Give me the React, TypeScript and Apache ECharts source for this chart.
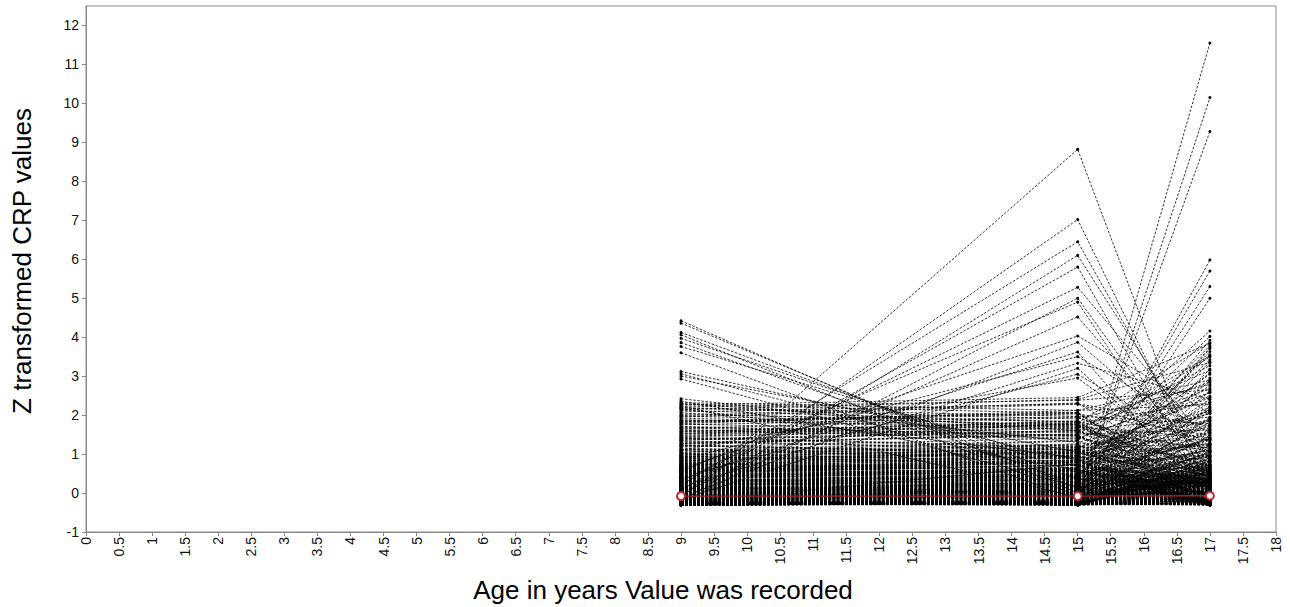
import React, { useEffect, useRef } from "react";
import * as echarts from "echarts";

// Ages at which CRP was recorded
const ages = [9, 15, 17];

// Y axis tick values
const yTicks = [-1, 0, 1, 2, 3, 4, 5, 6, 7, 8, 9, 10, 11, 12];

// Bulk of subjects: z-transformed CRP at age 9, 15, 17
const bulk9 = [
  -0.28, -0.21, 0.05, -0.3, 0.44, -0.12, 1.32, -0.26, 0.18, -0.05,
  0.71, -0.29, -0.17, 2.05, -0.24, 0.09, -0.31, 0.36, -0.08, 1.05,
  -0.22, -0.27, 0.58, -0.14, -0.3, 0.12, 1.78, -0.19, 0.27, -0.25,
  0.93, -0.03, -0.29, 0.41, -0.23, 1.52, -0.11, -0.28, 0.66, 0.02,
  -0.26, 0.21, -0.31, 1.18, -0.16, -0.07, 0.49, -0.27, 1.95, -0.2,
  0.15, -0.3, 0.84, -0.13, -0.25, 0.31, -0.04, 1.41, -0.29, 0.07,
  -0.18, 0.54, -0.28, -0.09, 1.66, -0.24, 0.25, -0.3, 0.76, -0.15,
  -0.01, -0.27, 1.12, 0.38, -0.22, -0.3, 0.62, -0.1, 2.18, -0.26,
  0.11, -0.19, -0.29, 0.97, -0.06, 0.47, -0.25, 1.26, -0.31, 0.19,
  -0.23, 0.33, -0.12, -0.28, 1.87, 0.04, -0.21, 0.69, -0.3, -0.14,
  1.48, -0.26, 0.14, -0.02, -0.29, 0.88, -0.17, 0.29, -0.24, 1.61,
  -0.08, -0.3, 0.52, -0.2, 0.08, 1.02, -0.27, -0.11, 0.42, 2.26,
  -0.29, 0.23, -0.15, 0.79, -0.31, 0.01, 1.36, -0.22, -0.05, 0.57,
  0.17, -0.26, 1.71, -0.18, 0.35, -0.28, -0.09, 0.91, -0.24, 0.06,
  -0.13, 1.22, -0.3, 0.45, -0.21, 0.13, -0.27, 1.99, 0.26, -0.16,
  0.64, -0.07, -0.29, 0.1, 1.57, -0.23, 0.39, -0.3, -0.12, 0.82,
  -0.25, 0.03, 1.09, -0.19, -0.28, 0.5, -0.04, 2.12, -0.26, 0.2,
  1.43, -0.22, 0.3, -0.31, 0.74, -0.1, -0.27, 0.16, 1.84, -0.18,
];
const bulk15 = [
  -0.25, -0.12, 0.22, -0.27, 0.61, -0.2, 1.1, -0.29, 0.35, 0.08,
  0.95, -0.24, -0.05, 1.72, -0.3, 0.26, -0.28, 0.58, -0.15, 1.33,
  -0.1, -0.29, 0.81, -0.02, -0.26, 0.31, 2.12, -0.23, 0.14, -0.18,
  0.74, 0.19, -0.22, 0.62, -0.27, 1.85, 0.06, -0.3, 0.92, -0.11,
  -0.21, 0.05, -0.28, 1.41, -0.03, -0.19, 0.72, -0.24, 2.28, -0.09,
  0.38, -0.25, 1.09, -0.26, -0.14, 0.17, 0.13, 1.16, -0.3, 0.29,
  -0.06, 0.79, -0.2, -0.22, 1.94, -0.28, 0.42, -0.23, 0.55, 0.02,
  0.16, -0.19, 0.88, 0.57, -0.29, -0.24, 0.84, 0.07, 1.9, -0.3,
  -0.04, -0.27, -0.21, 1.24, 0.11, 0.3, -0.16, 1.52, -0.26, 0.4,
  -0.28, 0.51, 0.03, -0.22, 1.63, 0.21, -0.29, 0.48, -0.25, -0.02,
  1.77, -0.2, -0.01, 0.15, -0.27, 1.13, -0.25, 0.46, -0.3, 1.38,
  0.09, -0.26, 0.36, -0.28, 0.24, 0.8, -0.21, 0.04, 0.65, 2.45,
  -0.24, 0.44, -0.23, 1.02, -0.27, 0.18, 1.6, -0.3, 0.12, 0.39,
  0.01, -0.21, 1.48, -0.06, 0.58, -0.3, 0.08, 1.17, -0.17, 0.23,
  0.03, 0.98, -0.25, 0.66, -0.29, -0.02, -0.2, 2.31, 0.47, -0.27,
  0.43, 0.1, -0.24, 0.27, 1.84, -0.3, 0.22, -0.26, 0.05, 1.06,
  -0.3, 0.2, 1.35, -0.08, -0.21, 0.73, -0.18, 1.81, -0.29, 0.37,
  1.19, -0.28, 0.52, -0.26, 0.97, 0.06, -0.23, -0.01, 2.07, -0.12,
];
const bulk17 = [
  0.08, -0.27, 0.42, -0.2, 1.86, -0.3, 0.21, 2.95, -0.14, 0.67,
  -0.29, 1.24, 0.03, 0.54, -0.23, 3.42, -0.09, -0.28, 0.88, 0.15,
  1.59, -0.18, -0.31, 0.33, 0.02, -0.26, 2.27, 0.74, -0.12, -0.29,
  -0.05, 0.48, 1.05, -0.25, 3.71, 0.11, -0.3, 0.26, 1.67, -0.21,
  0.62, -0.28, 0.19, 2.58, -0.16, 0.39, -0.27, -0.03, 1.33, 0.07,
  -0.24, 3.18, -0.11, 0.81, 0.14, -0.29, 0.47, 2.04, -0.19, 1.12,
  0.28, -0.06, 1.94, -0.31, 0.59, -0.22, 3.55, 0.09, -0.26, 0.36,
  2.41, 0.17, -0.28, 0.7, -0.13, 1.48, -0.3, 0.0, 2.79, -0.24,
  -0.17, 0.53, 0.12, -0.27, 1.76, 0.31, -0.1, 3.27, -0.29, 0.94,
  0.44, -0.25, 2.16, 0.05, -0.31, 0.86, -0.2, 1.39, 0.23, -0.07,
  -0.3, 0.65, -0.15, 3.63, 0.1, -0.26, 1.17, 0.38, -0.28, 2.68,
  1.01, -0.22, 0.29, -0.04, 2.33, -0.29, 0.77, 0.16, -0.18, 3.84,
  0.06, 1.53, -0.27, 0.45, -0.12, 2.87, 0.2, -0.3, 0.98, -0.08,
  1.82, -0.23, 0.13, 3.36, -0.29, 0.57, -0.02, 1.26, -0.25, 0.34,
  -0.14, 2.49, 0.72, -0.28, 0.04, 1.63, -0.21, 0.27, 3.08, -0.31,
  0.5, -0.09, 1.08, 0.18, -0.26, 2.11, 0.41, -0.19, 0.83, 1.71,
  -0.27, 0.24, 3.49, -0.16, 0.68, -0.3, 1.44, 0.01, 2.22, -0.24,
  0.93, -0.12, 0.35, 1.92, -0.28, 0.55, 2.62, -0.2, 0.14, 3.74,
];

// Further subjects with low values
const low9 = [
  -0.27, -0.19, 0.02, -0.3, 0.13, -0.24, 0.31, -0.29, -0.09, 0.46,
  -0.22, -0.31, 0.07, -0.15, 0.24, -0.28, -0.03, 0.55, -0.26, -0.11,
  0.18, -0.29, -0.2, 0.37, -0.07, -0.3, 0.1, -0.25, 0.62, -0.16,
  -0.28, 0.04, -0.23, 0.28, -0.31, -0.13, 0.5, -0.21, 0.15, -0.27,
  -0.06, 0.41, -0.3, -0.18, 0.09, -0.26, 0.33, -0.29, -0.01, 0.71,
  -0.24, -0.1, 0.2, -0.31, 0.58, -0.17, -0.28, 0.06, -0.22, 0.39,
  -0.3, 0.12, -0.25, -0.04, 0.47, -0.29, 0.26, -0.14, -0.27, 0.83,
  0.01, -0.23, 0.35, -0.31, -0.08, 0.17, -0.26, 0.66, -0.19, -0.3,
  0.22, -0.12, -0.28, 0.44, -0.24, 0.08, -0.31, 0.29, -0.05, -0.21,
  0.53, -0.27, -0.15, 0.14, -0.3, 0.38, -0.02, -0.25, 0.95, -0.18,
  -0.29, 0.27, -0.09, -0.23, 0.6, -0.31, 0.11, -0.26, 0.43, -0.13,
  -0.2, 0.05, -0.28, 0.32, -0.07, 0.76, -0.3, -0.16, 0.19, -0.24,
];
const low15 = [
  -0.22, -0.26, 0.15, -0.27, 0.01, -0.29, 0.47, -0.23, 0.06, 0.3,
  -0.28, -0.25, 0.2, -0.04, 0.39, -0.3, -0.16, 0.71, -0.21, 0.02,
  0.32, -0.24, -0.29, 0.21, 0.08, -0.26, -0.05, -0.3, 0.8, -0.08,
  -0.2, 0.19, -0.28, 0.44, -0.26, -0.02, 0.34, -0.27, 0.29, -0.22,
  0.09, 0.58, -0.25, -0.29, 0.23, -0.18, 0.17, -0.31, 0.14, 0.55,
  -0.3, 0.04, 0.36, -0.24, 0.42, -0.27, -0.21, -0.07, -0.29, 0.54,
  -0.23, 0.26, -0.3, 0.1, 0.63, -0.25, 0.12, -0.03, -0.2, 0.64,
  0.16, -0.28, 0.21, -0.26, 0.06, 0.03, -0.3, 0.85, -0.09, -0.24,
  0.37, -0.25, -0.22, 0.28, -0.3, 0.23, -0.27, 0.45, 0.1, -0.29,
  0.4, -0.2, -0.01, 0.27, -0.25, 0.22, 0.13, -0.31, 1.12, -0.06,
  -0.24, 0.41, 0.05, -0.29, 0.46, -0.26, 0.25, -0.19, 0.58, 0.01,
  -0.27, 0.18, -0.23, 0.48, -0.18, 0.6, -0.26, -0.03, 0.34, -0.3,
];
const low17 = [
  0.12, -0.29, -0.05, 0.38, -0.22, 0.61, -0.3, 0.04, -0.17, 0.27,
  -0.26, 0.49, -0.11, -0.28, 0.15, 0.83, -0.24, -0.02, 0.33, -0.31,
  -0.08, 0.56, -0.27, 0.09, -0.2, 0.42, -0.29, 0.21, -0.13, 1.05,
  0.3, -0.25, 0.68, -0.16, 0.02, -0.3, 0.24, 0.47, -0.27, -0.06,
  -0.21, 0.14, 0.91, -0.28, 0.36, -0.1, -0.31, 0.58, 0.07, -0.24,
  0.44, -0.29, -0.03, 0.19, -0.26, 0.73, 0.11, -0.18, 0.32, -0.3,
  -0.14, 0.52, -0.27, 0.26, -0.07, 1.22, -0.23, 0.05, -0.29, 0.4,
  -0.31, 0.17, 0.64, -0.12, -0.25, 0.29, 0.0, -0.28, 0.87, 0.13,
  -0.19, 0.35, -0.3, 0.08, 0.55, -0.22, -0.04, 0.46, -0.27, 0.22,
  0.71, -0.15, -0.29, 0.31, 0.03, -0.24, 1.38, -0.09, 0.18, -0.31,
  0.25, -0.26, 0.6, -0.01, -0.2, 0.39, -0.28, 0.1, -0.23, 0.95,
  -0.06, 0.48, -0.3, 0.16, 0.77, -0.17, 0.28, -0.25, 0.06, 0.51,
];

// Subjects with moderately raised values
const mid9 = [
  0.52, 1.34, 0.87, 2.21, 0.63, 1.75, 1.08, 0.71, 1.92, 0.58,
  1.46, 0.95, 2.08, 0.66, 1.27, 0.81, 1.63, 0.54, 1.15, 2.32,
  0.77, 1.51, 0.99, 1.83, 0.61, 1.21, 2.14, 0.89, 1.39, 0.69,
  1.69, 1.04, 0.56, 1.97, 0.83, 1.29, 0.74, 1.58, 2.01, 0.92,
  1.12, 0.64, 1.81, 0.79, 1.44, 2.27, 0.98, 1.67, 0.59, 1.24,
  0.86, 1.88, 1.01, 0.68, 1.54, 2.19, 0.94, 1.36, 0.73, 1.77,
];
const mid15 = [
  0.71, 1.12, 1.05, 2.38, 0.45, 1.96, 0.88, 0.92, 1.7, 0.79,
  1.68, 0.74, 2.29, 0.51, 1.49, 1.03, 1.41, 0.77, 0.96, 2.12,
  0.98, 1.73, 0.82, 2.05, 0.84, 1.02, 2.4, 0.69, 1.61, 0.9,
  1.48, 1.26, 0.72, 1.76, 1.05, 1.51, 0.58, 1.8, 1.84, 1.14,
  0.93, 0.86, 2.03, 0.62, 1.66, 2.05, 1.19, 1.45, 0.8, 1.02,
  1.08, 1.67, 1.23, 0.5, 1.76, 1.97, 0.73, 1.58, 0.95, 1.55,
];
const mid17 = [
  0.35, 1.85, 0.12, 2.65, 1.1, 0.48, 2.2, -0.05, 1.42, 0.9,
  3.15, 0.25, 1.72, 0.66, -0.18, 2.45, 0.8, 1.28, 0.05, 2.9,
  1.55, 0.4, 2.05, -0.12, 1.18, 0.72, 3.35, 0.18, 1.95, 0.58,
  -0.22, 1.38, 2.75, 0.95, 0.3, 1.62, 0.08, 2.32, 1.05, 0.52,
  2.58, 0.15, 1.48, 3.05, 0.7, -0.08, 1.88, 0.42, 2.12, 1.22,
  0.62, 2.85, 0.2, 1.35, -0.15, 1.78, 0.98, 3.52, 0.45, 1.15,
];

// Subjects with high values at age 15
const peak15At9 = [-0.13, -0.1, 0.2, -0.22, 0.08, 0.3, -0.26, 0.55, 0.0, 0.62, -0.12, 0.36, 0.85, 0.14, -0.18, 0.42, 1.1];
const peak15At15 = [8.82, 7.02, 6.45, 6.1, 5.8, 5.28, 5.0, 4.9, 4.52, 4.03, 3.87, 3.62, 3.5, 3.33, 3.2, 3.05, 2.95];
const peak15At17 = [-0.2, 0.1, 0.45, 0.8, -0.12, 1.25, 0.3, -0.18, 0.65, 2.05, 0.95, -0.22, 1.55, 2.4, 0.2, 1.05, 0.5];

// Subjects with high values at age 17
const peak17At9 = [0.1, -0.2, 0.4, -0.15, 0.22, -0.08, 0.05, 0.7, -0.25, 0.3, 1.2, -0.1];
const peak17At15 = [-0.25, -0.2, -0.1, -0.2, -0.1, 0.0, -0.15, 1.1, 0.75, -0.05, 1.8, 0.4];
const peak17At17 = [11.55, 10.15, 9.28, 5.98, 5.7, 5.3, 5.0, 4.16, 4.02, 3.92, 3.85, 3.78];

// Subjects with high values at age 9
const peak9At9 = [4.42, 4.36, 4.12, 4.06, 3.97, 3.86, 3.76, 3.6, 3.12, 3.06, 3.0, 2.93, 2.42, 2.36, 2.3, 2.24, 2.16];
const peak9At15 = [0.0, 0.12, 0.35, -0.08, 0.52, 0.22, 0.68, -0.18, 0.85, 0.4, 1.05, 0.15, 1.3, 0.6, 1.6, -0.1, 0.9];
const peak9At17 = [0.2, -0.15, 0.6, 0.05, 1.1, -0.25, 0.35, 0.8, -0.05, 1.4, 0.15, 0.5, 2.1, -0.2, 0.7, 0.3, 1.25];

// Mean line
const meanCrp = [-0.08, -0.08, -0.07];

const FONT = "'Liberation Sans', Arial, sans-serif";

export default function App() {
  const ref = useRef<HTMLDivElement>(null);

  useEffect(() => {
    const chart = echarts.init(ref.current!, null, { renderer: "svg" });
    const all9 = [...low9, ...bulk9, ...mid9, ...peak15At9, ...peak17At9, ...peak9At9];
    const all15 = [...low15, ...bulk15, ...mid15, ...peak15At15, ...peak17At15, ...peak9At15];
    const all17 = [...low17, ...bulk17, ...mid17, ...peak15At17, ...peak17At17, ...peak9At17];
    const cols = [all9, all15, all17];

    const series: any[] = all9.map((_, i) => ({
      type: "line",
      data: ages.map((a, k) => [a, cols[k][i]]),
      symbol: "circle",
      symbolSize: 3,
      itemStyle: { color: "#000" },
      lineStyle: { color: "#000", width: 0.8, type: [2.5, 1.6] },
      silent: true,
      emphasis: { disabled: true },
    }));
    series.push({
      type: "line",
      data: ages.map((a, k) => [a, meanCrp[k]]),
      symbol: "emptyCircle",
      symbolSize: 8,
      itemStyle: { color: "#b8282c", borderWidth: 1 },
      lineStyle: { color: "#a82228", width: 1.3, type: "solid" },
      silent: true,
      z: 5,
    });

    chart.setOption({
      animation: false,
      grid: {
        left: 86,
        right: 14,
        top: 6,
        bottom: 75,
        show: true,
        borderColor: "#888",
        borderWidth: 1,
        backgroundColor: "transparent",
      },
      xAxis: {
        type: "value",
        min: 0,
        max: 18,
        interval: 0.5,
        axisLine: { show: true, onZero: false, lineStyle: { color: "#888", width: 1 } },
        axisTick: { show: true, length: 4, lineStyle: { color: "#888" } },
        axisLabel: {
          rotate: 90,
          fontSize: 14,
          color: "#111",
          fontFamily: FONT,
          margin: 5,
        },
        splitLine: { show: false },
      },
      yAxis: {
        type: "value",
        min: -1,
        max: 12.5,
        interval: 1,
        axisLine: { show: true, onZero: false, lineStyle: { color: "#888", width: 1 } },
        axisTick: { show: true, length: 4, lineStyle: { color: "#888" }, customValues: yTicks },
        axisLabel: {
          fontSize: 14,
          color: "#111",
          fontFamily: FONT,
          margin: 7,
          customValues: yTicks,
          formatter: (v: number) => (Number.isInteger(v) ? String(v) : ""),
        },
        splitLine: { show: false },
      },
      graphic: [
        {
          type: "text",
          x: 22,
          y: 261,
          rotation: Math.PI / 2,
          style: {
            text: "Z transformed CRP values",
            fontSize: 26,
            fontFamily: FONT,
            fill: "#000",
            align: "center",
            verticalAlign: "middle",
          },
        },
        {
          type: "text",
          x: 663,
          y: 590,
          style: {
            text: "Age in years Value was recorded",
            fontSize: 26,
            fontFamily: FONT,
            fill: "#000",
            align: "center",
            verticalAlign: "middle",
          },
        },
      ],
      series,
    });
    return () => chart.dispose();
  }, []);

  return (
    <div
      ref={ref}
      style={{ position: "absolute", left: 0, top: 0, width: 1290, height: 607, background: "#fff" }}
    />
  );
}
